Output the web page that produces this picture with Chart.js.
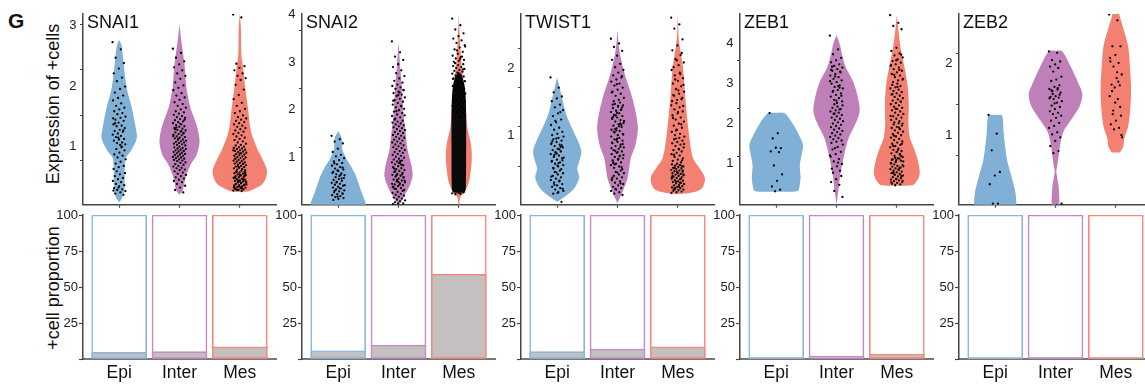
<!DOCTYPE html>
<html><head><meta charset="utf-8">
<script src="https://cdn.jsdelivr.net/npm/chart.js@4.4.1/dist/chart.umd.min.js"></script>
<style>
html,body{margin:0;padding:0;background:#fff;overflow:hidden;width:1145px;height:387px;}
#wrap{position:relative;width:1145px;height:387px;overflow:hidden;font-family:"Liberation Sans",Arial,sans-serif;color:#111;}
canvas{position:absolute;}
.lbl{position:absolute;white-space:nowrap;line-height:1;}
.rot{transform:translate(-50%,-50%) rotate(-90deg);font-size:18px;}
</style></head><body><div id="wrap">
<div class="lbl" style="left:8px;top:10px;font-weight:bold;font-size:21px;">G</div>
<div class="lbl rot" style="left:53px;top:104px;">Expression of +cells</div>
<div class="lbl rot" style="left:53px;top:288px;">+cell proportion</div>
</div>
<script>
// ---------------- DATA ----------------
const categories = ['Epi', 'Inter', 'Mes'];
const genes = ['SNAI1', 'SNAI2', 'TWIST1', 'ZEB1', 'ZEB2'];

// expression axis ranges, label ticks and unlabeled tick marks
const exprMin = [0.025, 0, -0.013, -0.012, 0.047];
const exprMax = [3.198, 4.017, 2.794, 4.718, 2.688];
const exprTickLabels = [[1, 2, 3], [1, 2, 3, 4], [1, 2], [1, 2, 3, 4], [1, 2]];
const exprTickMarks = [[0.757, 1.512, 2.267, 3.022], [1.21, 2.44, 3.67], [0.553, 1.132, 1.708, 2.282], [1.181, 2.382, 3.574], [0.735, 1.436, 2.138]];
const propTicks = [0, 25, 50, 75, 100];

// % of positive cells (Epi, Inter, Mes)
const propSNAI1 = [4.6, 5.1, 8.5];
const propSNAI2 = [5.6, 9.7, 58.8];
const propTWIST1 = [5.1, 6.9, 8.5];
const propZEB1 = [0.3, 2.0, 3.5];
const propZEB2 = [0.2, 0.9, 0.3];

// violin density profiles: [expression, relative half-width], bottom to top
const snai1EpiShape = [[0.06,0],[0.14,0.11],[0.26,0.19],[0.55,0.2],[0.8,0.24],[0.92,0.43],[1.13,0.65],[1.3,0.61],[1.63,0.47],[1.96,0.28],[2.34,0.17],[2.67,0.09],[2.77,0]];
const snai1InterShape = [[0.19,0],[0.26,0.12],[0.47,0.22],[0.69,0.41],[0.85,0.63],[1.08,0.74],[1.35,0.63],[1.63,0.41],[1.96,0.26],[2.34,0.19],[2.74,0.07],[3.03,0]];
const snai1MesShape = [[0.24,0],[0.245,0.3],[0.29,0.55],[0.36,0.81],[0.47,0.96],[0.6,1.0],[0.77,0.85],[0.97,0.63],[1.25,0.41],[1.63,0.3],[2.01,0.19],[2.34,0.11],[2.5,0.06],[2.95,0.04],[3.22,0]];
const snai2EpiShape = [[-0.05,1.02],[0.06,1.0],[0.19,0.91],[0.4,0.78],[0.61,0.65],[0.82,0.46],[0.96,0.31],[1.17,0.15],[1.38,0.14],[1.55,0]];
const snai2InterShape = [[0,0],[0.06,0.09],[0.19,0.22],[0.4,0.41],[0.61,0.52],[0.82,0.48],[1.17,0.33],[1.53,0.26],[1.86,0.19],[2.22,0.15],[2.57,0.11],[2.91,0.06],[3.44,0]];
const snai2MesShape = [[0,0.02],[0.15,0.05],[0.25,0.2],[0.45,0.36],[0.75,0.45],[1.03,0.48],[1.3,0.44],[1.6,0.32],[1.9,0.27],[2.3,0.22],[2.7,0.15],[3.1,0.08],[3.5,0.04],[4.0,0]];
const snai2MesDense = [[0.25,0],[0.27,0.22],[0.4,0.26],[1.2,0.27],[1.9,0.27],[2.3,0.25],[2.55,0.2],[2.7,0.12],[2.8,0]];
const twist1EpiShape = [[0.03,0],[0.12,0.33],[0.23,0.63],[0.38,0.81],[0.52,0.74],[0.62,0.81],[0.77,0.89],[0.91,0.78],[1.1,0.56],[1.32,0.33],[1.54,0.19],[1.68,0.11],[1.86,0]];
const twist1InterShape = [[0.01,0],[0.19,0.2],[0.38,0.37],[0.67,0.49],[0.88,0.67],[1.14,0.75],[1.54,0.56],[1.93,0.25],[2.26,0.07],[2.55,0]];
const twist1MesShape = [[0.14,0],[0.17,0.56],[0.23,0.89],[0.38,1.0],[0.52,0.81],[0.67,0.56],[1.06,0.4],[1.54,0.28],[2.01,0.19],[2.41,0.04],[2.8,0]];
const zeb1EpiShape = [[0.31,0],[0.32,0.78],[0.41,0.85],[0.66,0.9],[0.95,0.87],[1.2,0.93],[1.46,0.99],[1.63,0.9],[1.95,0.65],[2.26,0.3],[2.27,0]];
const zeb1InterShape = [[0,0],[0.34,0.07],[0.73,0.14],[1.22,0.28],[1.63,0.44],[1.95,0.67],[2.29,0.85],[2.61,0.8],[3.02,0.63],[3.41,0.33],[3.76,0.19],[4.0,0.11],[4.2,0]];
const zeb1MesShape = [[0.46,0],[0.47,0.56],[0.54,0.7],[0.73,0.84],[0.98,0.81],[1.32,0.67],[1.63,0.49],[1.95,0.43],[2.44,0.44],[2.93,0.4],[3.41,0.28],[3.83,0.15],[4.24,0.07],[4.7,0]];
const zeb2EpiShape = [[-0.05,0.78],[0.07,0.78],[0.23,0.74],[0.41,0.62],[0.68,0.43],[1.05,0.31],[1.28,0.25],[1.29,0]];
const zeb2InterShape = [[-0.05,0.14],[0.14,0.14],[0.32,0.11],[0.51,0.03],[0.59,0.07],[0.82,0.15],[1.05,0.28],[1.23,0.59],[1.41,0.89],[1.58,0.99],[1.74,0.83],[1.96,0.56],[2.17,0.25],[2.18,0]];
const zeb2MesShape = [[0.77,0],[0.775,0.15],[0.86,0.28],[0.96,0.31],[1.14,0.46],[1.41,0.54],[1.68,0.56],[1.96,0.52],[2.23,0.46],[2.42,0.33],[2.68,0.13],[2.75,0.13],[2.76,0]];

// single-cell expression values (dots)
const snai1EpiPts = [2.73,2.61,2.47,2.38,2.29,2.21,2.14,2.08,1.99,1.95,1.89,1.84,1.80,1.76,1.71,1.67,1.64,1.61,1.58,1.55,1.53,1.49,1.47,1.44,1.42,1.39,1.36,1.34,1.33,1.30,1.27,1.25,1.24,1.21,1.19,1.17,1.15,1.12,1.11,1.09,1.06,1.05,1.03,1.02,1.38,1.26,1.14,1.46,0.98,0.95,0.93,0.89,0.86,0.84,0.81,0.78,0.74,0.71,0.67,0.65,0.62,0.99,0.58,0.55,0.53,0.50,0.47,0.45,0.42,0.40,0.37,0.35,0.33,0.30,0.28,0.27,0.25,0.23,0.21,0.19,0.31,0.26];
const snai1InterPts = [2.62,2.55,2.47,2.41,2.36,2.31,2.26,2.21,2.17,2.12,2.06,2.01,1.97,1.93,1.88,1.84,1.81,1.77,1.73,1.70,1.67,1.64,1.61,1.58,1.56,1.54,1.52,1.50,1.48,1.47,1.45,1.43,1.41,1.40,1.38,1.36,1.35,1.33,1.32,1.30,1.29,1.27,1.26,1.24,1.23,1.22,1.20,1.19,1.18,1.16,1.15,1.14,1.13,1.11,1.10,1.09,1.08,1.07,1.06,1.05,1.04,1.03,1.02,1.01,1.37,1.28,1.21,1.12,1.17,1.25,1.31,1.44,0.99,0.98,0.97,0.96,0.95,0.94,0.93,0.92,0.91,0.90,0.89,0.88,0.87,0.86,0.85,0.84,0.83,0.82,0.81,0.80,0.79,0.78,0.77,0.76,0.75,0.73,0.72,0.70,0.69,0.67,0.66,0.64,0.63,0.61,0.60,0.58,0.56,0.54,0.52,0.50,0.48,0.46,0.44,0.42,0.40,0.37,0.34,0.31,0.27,0.23];
const snai1MesPts = [3.19,3.14,2.37,2.33,2.30,2.26,2.21,2.17,2.13,2.10,2.02,1.94,1.85,1.78,1.72,1.67,1.62,1.58,1.55,1.51,1.48,1.46,1.44,1.42,1.40,1.38,1.36,1.34,1.32,1.30,1.28,1.26,1.24,1.22,1.20,1.18,1.16,1.14,1.12,1.10,1.08,1.06,1.04,1.02,1.01,0.99,0.98,0.97,0.96,0.95,0.94,0.93,0.92,0.91,0.90,0.89,0.88,0.87,0.86,0.85,0.84,0.83,0.82,0.81,0.80,0.79,0.78,0.77,0.76,0.75,0.74,0.73,0.72,0.71,0.70,0.69,0.68,0.67,0.66,0.65,0.64,0.63,0.62,0.61,0.60,0.88,0.79,0.71,0.66,0.93,0.59,0.58,0.57,0.56,0.55,0.54,0.53,0.52,0.51,0.50,0.49,0.48,0.47,0.46,0.45,0.44,0.43,0.42,0.41,0.40,0.39,0.38,0.37,0.36,0.35,0.34,0.33,0.32,0.31,0.30,0.29,0.28,0.27,0.26,0.25,0.57,0.54,0.51,0.48,0.45,0.43,0.41,0.39,0.37,0.35,0.33,0.31,0.29,0.27,0.56,0.52,0.47,0.44,0.40,0.36,0.32,0.28,0.50,0.42,0.34];
const snai2EpiPts = [1.45,1.38,1.33,1.29,1.18,1.11,1.05,1.02,0.98,0.94,0.91,0.88,0.85,0.82,0.79,0.76,0.74,0.71,0.69,0.66,0.64,0.62,0.60,0.87,0.78,0.72,0.67,0.63,0.58,0.56,0.54,0.52,0.50,0.48,0.46,0.44,0.42,0.40,0.38,0.36,0.34,0.32,0.30,0.28,0.26,0.24,0.22,0.20,0.18,0.16,0.14,0.12,0.10,0.55,0.47,0.41,0.35,0.29,0.23,0.17];
const snai2InterPts = [3.44,3.21,3.12,3.05,2.96,2.90,2.83,2.77,2.71,2.66,2.61,2.57,2.53,2.50,2.47,2.44,2.41,2.38,2.35,2.32,2.29,2.26,2.23,2.20,2.17,2.14,2.11,2.08,2.05,2.02,1.99,1.96,1.93,1.90,1.87,1.84,1.81,2.42,2.31,2.19,2.07,1.97,1.88,2.36,1.79,1.77,1.75,1.73,1.71,1.69,1.67,1.65,1.63,1.61,1.59,1.57,1.55,1.53,1.51,1.49,1.47,1.45,1.43,1.41,1.39,1.37,1.35,1.33,1.31,1.29,1.27,1.25,1.23,1.21,1.19,1.17,1.15,1.13,1.11,1.09,1.07,1.05,1.03,1.01,0.99,0.97,0.95,0.93,0.91,0.89,0.87,0.85,0.83,0.81,0.79,0.77,0.75,0.73,0.71,0.69,0.67,0.65,0.63,0.61,0.59,0.57,0.55,0.53,0.51,0.49,0.47,0.45,0.43,0.41,0.39,0.37,0.35,0.33,0.31,0.88,0.76,0.64,0.52,0.44,0.92,0.70,0.58,0.48,0.38,0.84,0.62,0.50,0.42,0.34,0.29,0.27,0.25,0.23,0.21,0.19,0.17,0.15,0.13,0.11,0.09,0.07,0.05,0.03,0.02,0.01];
const snai2MesPts = [3.92,3.78,3.69,3.61,3.55,3.50,3.46,3.41,3.36,3.31,3.27,3.22,3.18,3.14,3.11,3.08,3.05,3.03,3.01,3.12,3.25,3.33,3.07,2.98,2.96,2.94,2.92,2.90,2.88,2.86,2.84,2.82,2.80,2.78,2.76,2.74,2.72,2.70,2.68,2.66,2.64,2.62,2.60,2.58,2.56,2.54,2.52,2.50,2.48,2.46,2.44,2.42,2.40,2.38,2.36,2.34,2.32,2.30,2.28,2.26,2.24,2.22,2.20,2.18,2.16,2.14,2.12,2.10,2.08,2.06,2.04,2.02,2.00,1.97,1.94,1.91,1.88,1.85,1.82,2.85,2.75,2.65,2.55,2.45,2.35,2.25,2.15,2.05,1.95,0.24,0.23,0.22,0.26,0.25];
const twist1EpiPts = [1.86,1.71,1.64,1.58,1.55,1.51,1.46,1.42,1.38,1.33,1.29,1.24,1.20,1.16,1.12,1.09,1.06,1.03,1.01,1.35,1.22,0.99,0.97,0.95,0.93,0.91,0.89,0.87,0.85,0.83,0.81,0.79,0.77,0.75,0.73,0.71,0.69,0.67,0.65,0.63,0.61,0.59,0.57,0.55,0.53,0.51,0.96,0.88,0.80,0.72,0.64,0.56,0.92,0.84,0.76,0.68,0.60,0.52,0.86,0.74,0.62,0.49,0.47,0.45,0.43,0.41,0.39,0.37,0.35,0.33,0.31,0.29,0.27,0.25,0.23,0.21,0.19,0.17,0.15,0.03,0.46,0.40,0.34,0.28,0.22,0.16];
const twist1InterPts = [2.43,2.36,2.31,2.25,2.18,2.12,2.06,2.01,1.97,1.93,1.89,1.86,1.83,1.80,1.77,1.74,1.71,1.68,1.65,1.62,1.59,1.56,1.53,1.51,1.88,1.76,1.64,1.49,1.47,1.45,1.43,1.41,1.39,1.37,1.35,1.33,1.31,1.29,1.27,1.25,1.23,1.21,1.19,1.17,1.15,1.13,1.11,1.09,1.07,1.05,1.03,1.01,1.46,1.38,1.30,1.22,1.14,1.06,1.42,1.34,1.26,1.18,1.10,1.02,1.44,1.28,1.16,1.08,0.99,0.97,0.95,0.93,0.91,0.89,0.87,0.85,0.83,0.81,0.79,0.77,0.75,0.73,0.71,0.69,0.67,0.65,0.63,0.61,0.59,0.57,0.55,0.53,0.51,0.96,0.90,0.84,0.78,0.72,0.66,0.60,0.54,0.94,0.82,0.70,0.58,0.88,0.76,0.64,0.49,0.47,0.45,0.43,0.41,0.39,0.37,0.35,0.33,0.31,0.29,0.27,0.25,0.23,0.21,0.19,0.17,0.15,0.13,0.46,0.38,0.30,0.22];
const twist1MesPts = [2.74,2.64,2.58,2.42,2.33,2.26,2.19,2.13,2.08,2.04,2.01,2.22,2.11,1.97,1.93,1.89,1.85,1.81,1.77,1.73,1.69,1.65,1.62,1.59,1.56,1.53,1.51,1.91,1.83,1.75,1.67,1.60,1.54,1.48,1.45,1.42,1.39,1.36,1.33,1.30,1.27,1.24,1.21,1.18,1.15,1.12,1.09,1.06,1.03,1.01,1.44,1.35,1.26,1.17,1.08,0.99,0.97,0.95,0.93,0.91,0.89,0.87,0.85,0.83,0.81,0.79,0.77,0.75,0.73,0.71,0.69,0.67,0.65,0.63,0.61,0.96,0.88,0.80,0.72,0.64,0.59,0.58,0.57,0.56,0.55,0.54,0.53,0.52,0.51,0.50,0.49,0.48,0.47,0.46,0.45,0.44,0.43,0.42,0.41,0.40,0.39,0.38,0.37,0.36,0.35,0.34,0.33,0.32,0.31,0.30,0.29,0.28,0.27,0.26,0.25,0.24,0.23,0.22,0.21,0.20,0.19,0.18,0.17,0.16,0.57,0.53,0.49,0.45,0.41,0.37,0.33,0.29,0.25,0.21,0.55,0.47,0.39,0.31,0.23,0.43];
const zeb1EpiPts = [2.26,1.76,1.63,1.39,1.40,1.31,1.29,0.96,0.74,0.58,0.44,0.36,0.32];
const zeb1InterPts = [4.18,3.84,3.72,3.63,3.57,3.52,3.47,3.43,3.39,3.35,3.31,3.27,3.23,3.19,3.15,3.11,3.07,3.03,2.99,2.95,2.91,2.87,2.83,2.79,2.75,2.71,2.67,2.63,2.59,2.55,2.51,3.41,3.29,3.17,3.05,2.93,2.81,2.69,2.57,3.33,2.89,2.48,2.45,2.42,2.39,2.36,2.33,2.30,2.27,2.24,2.21,2.18,2.15,2.12,2.09,2.06,2.03,2.00,1.97,1.94,1.91,1.88,1.85,1.82,1.79,1.76,1.73,1.70,1.67,1.64,1.61,1.58,1.55,1.52,2.35,2.25,1.48,1.42,1.36,1.30,1.24,1.18,1.12,1.06,1.00,0.94,0.88,0.83,1.39,1.21,1.03,0.78,0.70,0.62,0.55,0.48,0.33,0.18];
const zeb1MesPts = [4.69,4.50,4.42,4.34,3.88,3.80,3.74,3.69,3.64,3.59,3.55,3.51,3.47,3.43,3.39,3.35,3.31,3.27,3.23,3.19,3.15,3.11,3.07,3.03,3.71,3.57,3.45,3.33,3.21,3.09,2.99,2.96,2.93,2.90,2.87,2.84,2.81,2.78,2.75,2.72,2.69,2.66,2.63,2.60,2.57,2.54,2.51,2.48,2.45,2.42,2.39,2.36,2.33,2.30,2.27,2.24,2.21,2.18,2.15,2.12,2.09,2.06,2.03,2.00,2.91,2.73,2.55,2.37,2.19,2.01,1.98,1.95,1.92,1.89,1.86,1.83,1.80,1.77,1.74,1.71,1.68,1.65,1.62,1.59,1.56,1.53,1.50,1.47,1.44,1.41,1.38,1.35,1.32,1.29,1.26,1.23,1.20,1.17,1.14,1.11,1.08,1.05,1.02,1.90,1.70,1.50,1.30,1.10,1.25,1.15,1.06,1.35,1.45,1.19,1.09,1.01,1.13,0.99,0.97,0.95,0.93,0.91,0.89,0.87,0.85,0.83,0.81,0.79,0.77,0.75,0.73,0.71,0.69,0.67,0.65,0.63,0.61,0.59,0.57,0.55,0.53,0.51,0.49,0.47,0.94,0.86,0.78,0.70,0.62,0.54,0.90,0.74,0.58];
const zeb2EpiPts = [1.29,1.03,0.80,0.50,0.45,0.33,0.06,0.06];
const zeb2InterPts = [2.17,2.15,2.05,2.03,1.99,1.96,1.94,1.89,1.82,1.78,1.76,1.70,1.68,1.65,1.64,1.62,1.60,1.55,1.54,1.53,1.51,1.48,1.46,1.42,1.40,1.37,1.34,1.32,1.30,1.28,1.25,1.21,1.18,1.14,1.11,1.05,1.02,0.98,0.93,0.86,0.79,0.76,0.06,0.04,1.63,1.57,1.45,1.52,1.66,1.58];
const zeb2MesPts = [2.68,2.60,2.24,2.24,2.12,2.03,2.01,1.96,1.85,1.80,1.71,1.70,1.67,1.55,1.51,1.30,1.28,1.21,1.16,1.11,1.09,0.98,1.88,1.62,1.40,1.46,2.08,1.75,1.35,1.01];

// ---------------- STYLE / BUILD ----------------
const shapes = [
  [snai1EpiShape, snai1InterShape, snai1MesShape],
  [snai2EpiShape, snai2InterShape, snai2MesShape],
  [twist1EpiShape, twist1InterShape, twist1MesShape],
  [zeb1EpiShape, zeb1InterShape, zeb1MesShape],
  [zeb2EpiShape, zeb2InterShape, zeb2MesShape]
];
const pts = [
  [snai1EpiPts, snai1InterPts, snai1MesPts],
  [snai2EpiPts, snai2InterPts, snai2MesPts],
  [twist1EpiPts, twist1InterPts, twist1MesPts],
  [zeb1EpiPts, zeb1InterPts, zeb1MesPts],
  [zeb2EpiPts, zeb2InterPts, zeb2MesPts]
];
const props = [propSNAI1, propSNAI2, propTWIST1, propZEB1, propZEB2];

const FONT = '"Liberation Sans", Arial, sans-serif';
Chart.defaults.font.family = FONT;
const violinFill = ['#80b0d5', '#bf80b9', '#f48072'];
const barLine = ['#88b6dc', '#c489c7', '#f5887b'];
const grayFill = '#c4c0bf';
const AX = '#454545';
const VW = 0.45;      // max violin half width (category units)
const JIT = 0.11;     // jitter half width
const panelLeft = [83, 302, 521, 740, 959];
const wrap = document.getElementById('wrap');
const jitter = i => (((i * 0.6180339887) % 1) - 0.5) * 2 * JIT;

function violinDataset(profile, center, color, order) {
  const left = profile.map(([v, d]) => ({x: center - d * VW, y: v}));
  const right = profile.slice().reverse().map(([v, d]) => ({x: center + d * VW, y: v}));
  return {type: 'line', data: left.concat(right), fill: 'shape', backgroundColor: color,
    borderWidth: 0, pointRadius: 0, tension: 0.3, order: order};
}

function addCanvas(left, top, w, h) {
  const cv = document.createElement('canvas');
  cv.width = w; cv.height = h;
  cv.style.left = left + 'px'; cv.style.top = top + 'px';
  cv.style.width = w + 'px'; cv.style.height = h + 'px';
  wrap.appendChild(cv);
  return cv;
}

function makeTop(p) {
  const L = 45, R = 4, W = L + 193 + R, H = 216;
  const cv = addCanvas(panelLeft[p] - L, 0, W, H);
  const datasets = [];
  shapes[p].forEach((sh, g) => datasets.push(violinDataset(sh, g + 1, violinFill[g], 3)));
  if (p === 1) datasets.push(violinDataset(snai2MesDense, 3, '#0a0a0a', 2));
  pts[p].forEach((vals, g) => datasets.push({
    type: 'line', showLine: false, order: 1,
    data: vals.map((v, i) => ({x: g + 1 + jitter(i), y: v})),
    pointRadius: 1.15, pointBackgroundColor: '#000', pointBorderWidth: 0
  }));
  const labels = exprTickLabels[p];
  const allTicks = labels.concat(exprTickMarks[p]).sort((a, b) => a - b);
  new Chart(cv, {
    type: 'line',
    data: {datasets},
    options: {
      responsive: false, animation: false, events: [],
      layout: {padding: {top: 14, right: R, bottom: 0, left: 0}},
      plugins: {legend: {display: false}, tooltip: {enabled: false}},
      scales: {
        x: {type: 'linear', min: 0.4, max: 3.6,
          afterBuildTicks: s => { s.ticks = [1, 2, 3].map(v => ({value: v})); },
          afterFit: s => { s.height = 10; },
          ticks: {display: false},
          grid: {drawOnChartArea: false, drawTicks: true, tickLength: 3, color: AX, tickWidth: 1.2},
          border: {color: AX, width: 1.5}},
        y: {type: 'linear', min: exprMin[p], max: exprMax[p],
          afterBuildTicks: s => { s.ticks = allTicks.map(v => ({value: v})); },
          afterFit: s => { s.width = L; },
          ticks: {autoSkip: false, padding: 3.5, color: '#222', font: {size: 13, family: FONT},
            callback: v => labels.includes(v) ? String(v) : ''},
          grid: {drawOnChartArea: false, tickLength: 3, color: AX, tickWidth: 1.2,
            tickColor: ctx => (ctx.tick && labels.includes(ctx.tick.value)) ? 'rgba(0,0,0,0)' : AX},
          border: {color: AX, width: 1.5}}
      }
    }
  });
  const t = document.createElement('div');
  t.className = 'lbl';
  t.style.left = (panelLeft[p] + 4) + 'px';
  t.style.top = '12.5px';
  t.style.fontSize = '18px';
  t.textContent = genes[p];
  wrap.appendChild(t);
}

function makeBottom(p) {
  const L = 45, R = 4, W = L + 193 + R, H = 187;
  const cv = addCanvas(panelLeft[p] - L, 200, W, H);
  const prop = props[p];
  new Chart(cv, {
    type: 'bar',
    data: {datasets: [
      {data: prop.map((v, i) => ({x: i + 1, y: v})), backgroundColor: grayFill, borderColor: barLine,
        borderWidth: 1.6, borderSkipped: false, barThickness: 55, grouped: false},
      {data: prop.map((v, i) => ({x: i + 1, y: 100})), backgroundColor: '#ffffff', borderColor: barLine,
        borderWidth: 1.6, borderSkipped: false, barThickness: 55, grouped: false}
    ]},
    options: {
      responsive: false, animation: false, events: [],
      layout: {padding: {top: 15, right: R, bottom: 0, left: 0}},
      plugins: {legend: {display: false}, tooltip: {enabled: false}},
      scales: {
        x: {type: 'linear', min: 0.4, max: 3.6, offset: false,
          afterBuildTicks: s => { s.ticks = [1, 2, 3].map(v => ({value: v})); },
          afterFit: s => { s.height = 28; },
          ticks: {padding: 4, color: '#111', font: {size: 17.5, family: FONT}, callback: v => categories[v - 1]},
          grid: {offset: false, drawOnChartArea: false, drawTicks: false},
          border: {color: '#777', width: 2}},
        y: {min: 0, max: 100,
          afterBuildTicks: s => { s.ticks = propTicks.map(v => ({value: v})); },
          afterFit: s => { s.width = L; },
          ticks: {autoSkip: false, padding: 1, color: '#222', font: {size: 13, family: FONT},
            callback: v => v === 0 ? '' : String(v)},
          grid: {drawOnChartArea: false, tickLength: 4, color: AX, tickWidth: 1.2},
          border: {color: AX, width: 1.5}}
      }
    }
  });
}

for (let p = 0; p < 5; p++) { makeTop(p); makeBottom(p); }
</script>
</body></html>
